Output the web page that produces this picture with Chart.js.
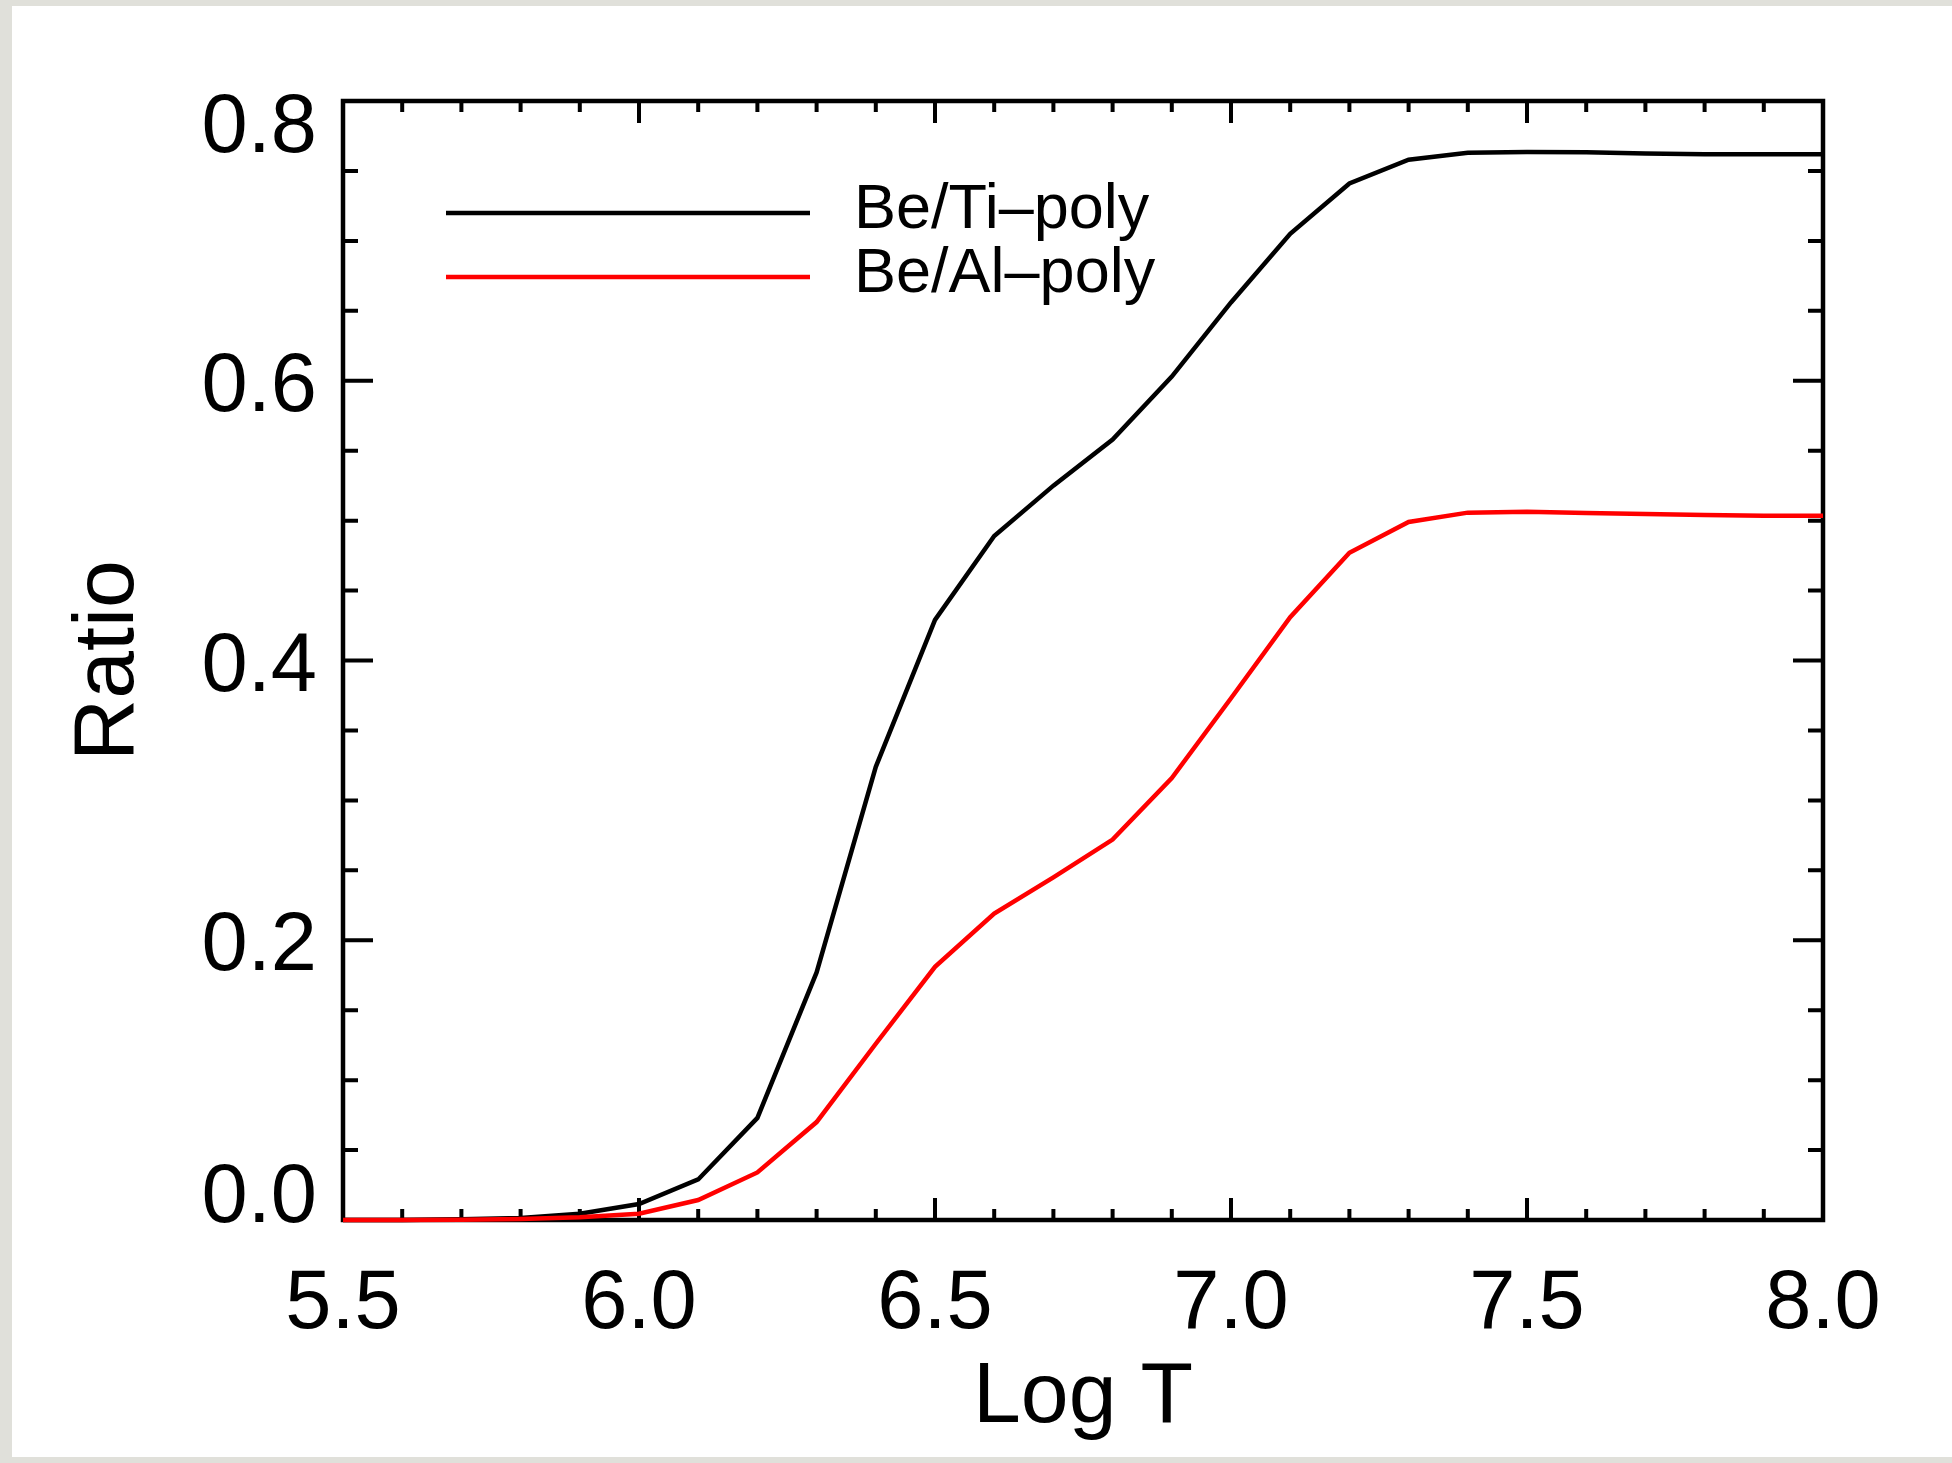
<!DOCTYPE html>
<html>
<head>
<meta charset="utf-8">
<script src="https://cdn.jsdelivr.net/npm/chart.js@4.4.0/dist/chart.umd.min.js"></script>
<style>
  html, body { margin: 0; padding: 0; background: #e0e0da; }
  #wrap { position: absolute; left: 0; top: 0; width: 1952px; height: 1463px; }
</style>
</head>
<body>
<div id="wrap"><canvas id="ratioChart"></canvas></div>
<script>
// Log T grid and the two ratio curves
const logT = [5.5, 5.6, 5.7, 5.8, 5.9, 6.0, 6.1, 6.2, 6.3, 6.4, 6.5, 6.6, 6.7,
              6.8, 6.9, 7.0, 7.1, 7.2, 7.3, 7.4, 7.5, 7.6, 7.7, 7.8, 7.9, 8.0];
const beTi = [0.0, 0.0, 0.0005, 0.0015, 0.0045, 0.0114, 0.029, 0.073, 0.177, 0.324,
              0.429, 0.489, 0.525, 0.558, 0.603, 0.656, 0.705, 0.741, 0.758, 0.763,
              0.7635, 0.7633, 0.7625, 0.762, 0.762, 0.762];
const beAl = [0.0, 0.0, 0.0002, 0.0007, 0.002, 0.0045, 0.0143, 0.034, 0.070, 0.126,
              0.181, 0.219, 0.245, 0.272, 0.316, 0.373, 0.431, 0.477, 0.499, 0.5057,
              0.5064, 0.5055, 0.5047, 0.504, 0.5035, 0.5035];
const seriesNames = ['Be/Ti\u2013poly', 'Be/Al\u2013poly'];
const xTickLabels = ['5.5', '6.0', '6.5', '7.0', '7.5', '8.0'];
const yTickLabels = ['0.0', '0.2', '0.4', '0.6', '0.8'];
const xTitle = 'Log T';
const yTitle = 'Ratio';

const FONT = '"Liberation Sans", Arial, Helvetica, sans-serif';

// frame, inward ticks, labels and legend, IDL style
const idlAxes = {
    id: 'idlAxes',
    beforeDraw(chart) {
        const ctx = chart.ctx;
        ctx.save();
        ctx.fillStyle = '#e0e0da';
        ctx.fillRect(0, 0, chart.width, chart.height);
        ctx.fillStyle = '#ffffff';
        ctx.fillRect(12, 6, chart.width - 12, chart.height - 12);
        ctx.restore();
    },
    beforeDatasetsDraw(chart) {
        const ctx = chart.ctx;
        const a = chart.chartArea;
        const xs = chart.scales.x, ys = chart.scales.y;
        ctx.save();
        ctx.strokeStyle = '#000';
        ctx.lineCap = 'butt';

        // ticks
        ctx.lineWidth = 4;
        ctx.beginPath();
        for (let i = 0; i <= 25; i++) {
            const v = 5.5 + i * 0.1;
            const px = xs.getPixelForValue(v);
            const len = (i % 5 === 0) ? 22 : 11;
            ctx.moveTo(px, a.bottom); ctx.lineTo(px, a.bottom - len);
            ctx.moveTo(px, a.top); ctx.lineTo(px, a.top + len);
        }
        for (let i = 0; i <= 16; i++) {
            const v = i * 0.05;
            const py = ys.getPixelForValue(v);
            const len = (i % 4 === 0) ? 30 : 15;
            ctx.moveTo(a.left, py); ctx.lineTo(a.left + len, py);
            ctx.moveTo(a.right, py); ctx.lineTo(a.right - len, py);
        }
        ctx.stroke();

        // frame
        ctx.lineWidth = 4.5;
        ctx.strokeRect(a.left, a.top, a.right - a.left, a.bottom - a.top);
        ctx.restore();
    },
    afterDraw(chart) {
        const ctx = chart.ctx;
        const a = chart.chartArea;
        const xs = chart.scales.x, ys = chart.scales.y;
        ctx.save();
        ctx.fillStyle = '#000';

        // tick labels
        ctx.font = '83px ' + FONT;
        ctx.textBaseline = 'alphabetic';
        ctx.textAlign = 'center';
        xTickLabels.forEach(t => {
            ctx.fillText(t, xs.getPixelForValue(parseFloat(t)), a.bottom + 108);
        });
        ctx.textAlign = 'right';
        yTickLabels.forEach(t => {
            const py = ys.getPixelForValue(parseFloat(t));
            const base = Math.min(Math.max(py + 30, a.top + 51), a.bottom + 2);
            ctx.fillText(t, a.left - 26, base);
        });

        // axis titles
        ctx.font = '86px ' + FONT;
        ctx.textAlign = 'center';
        ctx.fillText(xTitle, (a.left + a.right) / 2, 1422);
        ctx.save();
        ctx.translate(133, (a.top + a.bottom) / 2);
        ctx.rotate(-Math.PI / 2);
        ctx.fillText(yTitle, 0, 0);
        ctx.restore();

        // legend
        const rows = [213, 277];
        ctx.font = '63px ' + FONT;
        ctx.textAlign = 'left';
        chart.data.datasets.forEach((ds, i) => {
            ctx.strokeStyle = ds.borderColor;
            ctx.lineWidth = 4.5;
            ctx.beginPath();
            ctx.moveTo(446, rows[i]);
            ctx.lineTo(810, rows[i]);
            ctx.stroke();
            ctx.fillStyle = '#000';
            ctx.fillText(ds.label, 854, rows[i] + 15);
        });
        ctx.restore();
    }
};

const ctx = document.getElementById('ratioChart').getContext('2d');
new Chart(ctx, {
    type: 'line',
    data: {
        datasets: [{
            label: seriesNames[0],
            data: logT.map((x, i) => ({ x: x, y: beTi[i] })),
            borderColor: '#000000',
            borderWidth: 4.5,
            pointRadius: 0,
            tension: 0,
            clip: false,
            order: 1
        }, {
            label: seriesNames[1],
            data: logT.map((x, i) => ({ x: x, y: beAl[i] })),
            borderColor: '#ff0000',
            borderWidth: 4.5,
            pointRadius: 0,
            tension: 0,
            clip: false,
            order: 0
        }]
    },
    options: {
        responsive: true,
        maintainAspectRatio: false,
        animation: false,
        events: [],
        layout: {
            padding: { left: 343, right: 129, top: 101, bottom: 243 }
        },
        plugins: {
            legend: { display: false },
            tooltip: { enabled: false }
        },
        scales: {
            x: { type: 'linear', min: 5.5, max: 8.0, display: false },
            y: { type: 'linear', min: 0, max: 0.8, display: false }
        }
    },
    plugins: [idlAxes]
});
</script>
</body>
</html>
